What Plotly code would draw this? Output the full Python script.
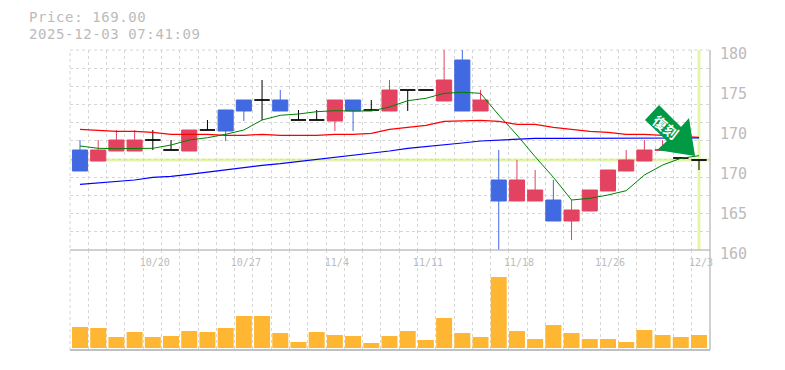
import numpy as np
import plotly.graph_objects as go

dates = ["10/14","10/15","10/16","10/17","10/20","10/21","10/22","10/23","10/24","10/27",
         "10/28","10/29","10/30","10/31","11/4","11/5","11/6","11/7","11/10","11/11",
         "11/12","11/13","11/14","11/17","11/18","11/19","11/20","11/21","11/25","11/26",
         "11/27","11/28","12/1","12/2","12/3"]
opens = [170,168.9,169.9,169.9,171,170,169.9,172,174,175,175,175,173,173,172.9,175,174,173.9,176,176,
         174.9,179,173.9,167,164.9,164.9,165,162.9,163.9,165.9,167.9,168.9,169.95,169.2,169]
highs = [171,171,172,172,172,171,172,173,174,175,177,176,174,174,175,175,175,177,176,176,
         180,180,176,170,169,168,167,165,166,168,170,171,171,169.3,169]
lows = [167.9,168.9,169.9,169.9,170,170,169.9,172,170.9,172.9,173,173.9,173,173,171.9,171.9,174,173.9,173.9,176,
        174.9,173.9,173.9,160,164.9,164.9,162.9,161,163.9,165.9,167.9,168.9,169.95,169.1,168]
closes = [167.9,170,171,171,171,170,172,172,171.9,173.9,175,173.9,173,173,175,173.9,174,176,176,176,
          177,173.9,175,164.9,167,166,162.9,164,166,168,169,170,170.05,169.2,169]
kinds = ["b","r","r","r","k","k","r","k","b","b","k","b","k","k","r","b","k","r","k","k",
         "r","b","r","b","r","r","b","r","r","r","r","r","r","k","k"]
volumes = [21,20,11,16,11,12,17,16,20,32,32,15,6,16,13,12,5,12,17,8,30,15,11,71,17,9,23,15,9,9,6,18,13,11,13]
ma_green = [170.4,170.17,170.13,170.13,170.17,170.5,171,171.23,171.57,172,173,173.47,173.6,173.83,173.93,173.9,173.9,174.3,
            174.93,175.17,175.67,175.77,175.67,173.5,171.5,169.33,167.27,165,165.17,165.5,165.93,167.5,168.5,169.17,169.43]
ma_red = [172.07,171.97,171.87,171.87,171.77,171.57,171.57,171.57,171.47,171.47,171.57,171.47,171.47,171.47,171.57,171.57,171.67,172.07,
          172.27,172.47,172.87,172.9,172.97,172.87,172.57,172.57,172.27,172.07,171.87,171.77,171.57,171.57,171.47,171.33,171.27]
ma_blue = [166.57,166.73,166.83,167,167.27,167.37,167.57,167.8,168,168.27,168.47,168.63,168.83,169.07,169.27,169.47,169.67,169.9,
           170.17,170.33,170.5,170.7,170.9,171,171.1,171.17,171.17,171.17,171.17,171.17,171.17,171.17,171.23,171.23,171.2]
price = 169.0
timestamp = "2025-12-03 07:41:09"
y_tick_vals = [180,176,172,168,164,160]
y_tick_text = ["180","175","170","170","165","160"]

PAGE = 8  # the page's own margin round the figure
W, H = 785 - 2*PAGE, 370 - 2*PAGE
L, R, T, B = 70, 710, 50, 350   # plot area, in window pixels
RED, BLUE, ORANGE = "#E34361", "#4169E1", "#FFB733"
GRID = "#D6D6D6"; BORDER = "#C0C0C0"; TEXT = "#BBBBBB"; HILITE = "#E2F5A8"; STICKER = "#009944"

idx = list(range(len(dates)))
xr = [-(80-L)/18.206, (R-80)/18.206]
px = lambda x: (x-L)/(R-L)
py = lambda y: (B-y)/(B-T)

fig = go.Figure()
for k, col in (("r", RED), ("b", BLUE), ("k", "black")):
    s = [i for i in idx if kinds[i] == k]
    fig.add_trace(go.Candlestick(
        x=s, open=[opens[i] for i in s], high=[highs[i] for i in s],
        low=[lows[i] for i in s], close=[closes[i] for i in s],
        increasing=dict(line=dict(color=col, width=1), fillcolor=col),
        decreasing=dict(line=dict(color=col, width=1), fillcolor=col),
        whiskerwidth=0, xaxis="x", yaxis="y", showlegend=False))
for vals, col, w in ((ma_red, "#FF0000", 1.2), (ma_blue, "#0000FF", 1.2), (ma_green, "#008000", 1)):
    fig.add_trace(go.Scatter(x=idx, y=vals, mode="lines", line=dict(color=col, width=w),
                             xaxis="x", yaxis="y", showlegend=False))
fig.add_trace(go.Bar(x=idx, y=volumes, width=0.88, marker=dict(color=ORANGE, line=dict(width=0)),
                     xaxis="x2", yaxis="y2", showlegend=False))

grid_x = list(np.linspace(xr[0], xr[1], 36))
grid_y = list(np.linspace(160, 180, 12))
tick_idx = idx[4::5]
common_x = dict(range=xr, showgrid=False, zeroline=False, showline=False, ticks="",
                rangeslider=dict(visible=False),
                minor=dict(tickmode="array", tickvals=grid_x, showgrid=True, gridcolor=GRID,
                           griddash="dot", gridwidth=1, ticks=""))
arrow = [(659,105),(681,127),(689,118),(695,156),(657,150),(667,141),(645,120)]
path = "M " + " L ".join(f"{px(x):.4f},{py(y):.4f}" for x, y in arrow) + " Z"

def head(text):
    return f"<span style='letter-spacing:0.6px'>{text}</span>"

fig.update_layout(
    width=W, height=H,
    margin=dict(l=L-PAGE, r=W-(R-PAGE), t=T-PAGE, b=H-(B-PAGE), autoexpand=False),
    paper_bgcolor="white", plot_bgcolor="white", boxgap=0.17, boxgroupgap=0, hovermode=False,
    font=dict(family="DejaVu Sans Mono", color=TEXT),
    xaxis=dict(domain=[0,1], anchor="y", tickmode="array", tickvals=tick_idx,
               ticktext=[dates[i] for i in tick_idx], tickfont=dict(size=10, color=TEXT),
               ticklabelshift=2, ticklabelstandoff=5, **common_x),
    xaxis2=dict(domain=[0,1], anchor="y2", showticklabels=False, **common_x),
    yaxis=dict(domain=[1/3,1], range=[160,180], side="right", anchor="x", tickmode="array",
               tickvals=y_tick_vals, ticktext=y_tick_text, tickfont=dict(size=15, color=TEXT),
               ticklabelstandoff=9, ticklabelshift=4,
               showgrid=False, zeroline=False, showline=False, ticks="",
               minor=dict(tickmode="array", tickvals=grid_y, showgrid=True, gridcolor=GRID,
                          griddash="dot", gridwidth=1, ticks="")),
    yaxis2=dict(domain=[0,1/3], range=[-2,98], anchor="x2", showgrid=False, zeroline=False,
                showticklabels=False, ticks=""),
    shapes=[
        dict(type="line", xref="paper", x0=0, x1=1, yref="paper", y0=1, y1=1,
             line=dict(color=GRID, width=1, dash="dot"), layer="below"),
        dict(type="line", xref="paper", x0=0, x1=0, yref="paper", y0=0, y1=1,
             line=dict(color=GRID, width=1, dash="dot"), layer="below"),
        dict(type="line", xref="paper", x0=0, x1=1, yref="y", y0=price, y1=price,
             line=dict(color=HILITE, width=3), layer="below"),
        dict(type="line", xref="x", x0=idx[-1], x1=idx[-1], yref="y", y0=160, y1=180,
             line=dict(color=HILITE, width=3), layer="below"),
        dict(type="line", xref="paper", x0=0, x1=1, yref="paper", y0=py(250), y1=py(250),
             line=dict(color=BORDER, width=1.5), layer="above"),
        dict(type="line", xref="paper", x0=0, x1=1, yref="paper", y0=py(350), y1=py(350),
             line=dict(color=BORDER, width=2), layer="above"),
        dict(type="line", xref="paper", x0=1, x1=1, yref="paper", y0=py(50), y1=py(350),
             line=dict(color=BORDER, width=1.5), layer="above"),
        dict(type="path", xref="paper", yref="paper", path=path,
             fillcolor=STICKER, line=dict(width=0), layer="above"),
    ],
    annotations=[
        dict(xref="paper", yref="paper", x=px(27), y=py(17.5), xanchor="left", yanchor="middle",
             text=head(f"Price: {price:.2f}"), showarrow=False, font=dict(size=14, color=TEXT)),
        dict(xref="paper", yref="paper", x=px(27), y=py(34), xanchor="left", yanchor="middle",
             text=head(timestamp), showarrow=False, font=dict(size=14, color=TEXT)),
        dict(xref="paper", yref="paper", x=px(666), y=py(127), xanchor="center", yanchor="middle",
             text="<b>復刻</b>", showarrow=False,
             textangle=38, font=dict(size=14, color="white", family="Noto Sans CJK JP")),
    ],
)
fig.write_html("out.html")
